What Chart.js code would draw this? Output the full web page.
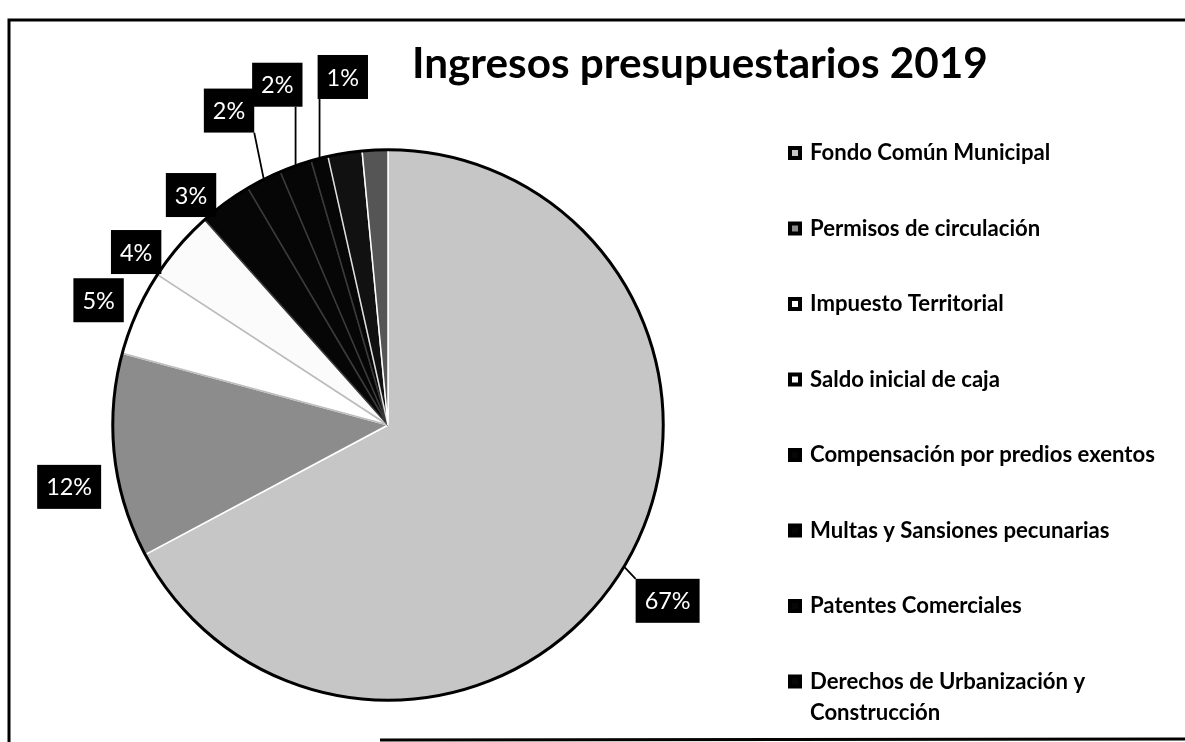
<!DOCTYPE html>
<html>
<head>
<meta charset="utf-8">
<script src="https://cdn.jsdelivr.net/npm/chart.js@4.4.1/dist/chart.umd.min.js"></script>
<style>
  html, body { margin: 0; padding: 0; background: #ffffff; }
  #wrap { width: 1185px; height: 742px; position: relative; }
</style>
</head>
<body>
<div id="wrap"><canvas id="budgetPie" width="1185" height="742"></canvas></div>
<script>
// ---- data ----
const titleText = 'Ingresos presupuestarios 2019';
const categories = [
  'Fondo Común Municipal',
  'Permisos de circulación',
  'Impuesto Territorial',
  'Saldo inicial de caja',
  'Compensación por predios exentos',
  'Multas y Sansiones pecunarias',
  'Patentes Comerciales',
  'Derechos de Urbanización y Construcción'
];
const shares = [67.2, 12.0, 5.0, 4.2, 3.1, 2.1, 1.9, 1.0];
// thin unlabeled slivers visible at the top of the pie (no legend entry, no label)
const unlabeledShares = [2.0, 1.5];

// ---- styling ----
const sliceColors = ['#c6c6c6', '#8c8c8c', '#ffffff', '#fbfbfb', '#060606', '#060606', '#060606', '#060606'];
const sliceBorders = ['#ffffff', '#ffffff', '#bdbdbd', '#bdbdbd', '#3a3a3a', '#3a3a3a', '#3a3a3a', '#3a3a3a'];
const unlabeledColors = ['#111111', '#555555'];
const unlabeledBorders = ['#e0e0e0', '#ffffff'];
const fontFamily = 'Lato, "Open Sans", "Liberation Sans", sans-serif';

// where each percentage box sits, relative to its slice (radius factor, angle shift in degrees)
const labelPlacement = [
  { f: 1.20, dA: 1.2, leader: true },
  { f: 1.18, dA: -4.5, leader: false },
  { f: 1.145, dA: -0.8, leader: false },
  { f: 1.11, dA: -6.2, leader: false },
  { f: 1.10, dA: -4.4, leader: false },
  { f: 1.28, dA: 0.0, leader: true },
  { f: 1.30, dA: 1.6, leader: true },
  { f: 1.275, dA: 7.0, leader: true }
];

function fitSize(ctx, text, weight, targetWidth) {
  ctx.font = weight + ' 100px ' + fontFamily;
  return 100 * targetWidth / ctx.measureText(text).width;
}

function wrapWords(ctx, text, maxWidth) {
  const words = text.split(' ');
  const lines = [];
  let line = '';
  words.forEach(function(w) {
    const test = line ? line + ' ' + w : w;
    if (line && ctx.measureText(test).width > maxWidth) {
      lines.push(line);
      line = w;
    } else {
      line = test;
    }
  });
  if (line) lines.push(line);
  return lines;
}

const total = shares.concat(unlabeledShares).reduce((a, b) => a + b, 0);

const decorPlugin = {
  id: 'decor',
  afterDatasetsDraw(chart) {
    const ctx = chart.ctx;
    const meta = chart.getDatasetMeta(0);
    const c = meta.data[0].getProps(['x', 'y', 'outerRadius'], true);
    ctx.save();

    // black rim round the pie
    ctx.beginPath();
    ctx.arc(c.x, c.y, c.outerRadius, 0, Math.PI * 2);
    ctx.lineWidth = 3;
    ctx.strokeStyle = '#000000';
    ctx.stroke();

    // percentage boxes
    const labelSize = fitSize(ctx, '67%', 'normal', 46);
    ctx.font = 'normal ' + labelSize + 'px ' + fontFamily;
    ctx.textAlign = 'center';
    ctx.textBaseline = 'middle';
    shares.forEach(function(v, i) {
      const arc = meta.data[i].getProps(['startAngle', 'endAngle'], true);
      const mid = (arc.startAngle + arc.endAngle) / 2;
      const place = labelPlacement[i];
      const a = mid + place.dA * Math.PI / 180;
      const lx = c.x + Math.cos(a) * c.outerRadius * place.f;
      const ly = c.y + Math.sin(a) * c.outerRadius * place.f;
      const text = Math.round(v / total * 100) + '%';
      const w = ctx.measureText(text).width + 18;
      const h = 44;
      const bx = lx - w / 2;
      const by = ly - h / 2;
      if (place.leader) {
        const ax = c.x + Math.cos(mid) * c.outerRadius;
        const ay = c.y + Math.sin(mid) * c.outerRadius;
        const tx = Math.min(Math.max(ax, bx), bx + w);
        const ty = Math.min(Math.max(ay, by), by + h);
        ctx.beginPath();
        ctx.moveTo(ax, ay);
        ctx.lineTo(tx, ty);
        ctx.lineWidth = 1.8;
        ctx.strokeStyle = '#000000';
        ctx.stroke();
      }
      ctx.fillStyle = '#000000';
      ctx.fillRect(bx, by, w, h);
      ctx.fillStyle = '#ffffff';
      ctx.fillText(text, lx, ly + 1);
    });
    ctx.restore();
  },
  afterDraw(chart) {
    const ctx = chart.ctx;
    ctx.save();

    // scanned frame
    ctx.strokeStyle = '#000000';
    ctx.lineWidth = 3;
    ctx.beginPath();
    ctx.moveTo(9, 742);
    ctx.lineTo(9, 20);
    ctx.lineTo(1185, 20);
    ctx.stroke();
    ctx.beginPath();
    ctx.moveTo(380, 740);
    ctx.lineTo(1185, 739);
    ctx.stroke();

    // title
    const titleSize = fitSize(ctx, titleText, 'bold', 576);
    ctx.font = 'bold ' + titleSize + 'px ' + fontFamily;
    ctx.fillStyle = '#000000';
    ctx.textAlign = 'left';
    ctx.textBaseline = 'alphabetic';
    ctx.fillText(titleText, 412, 78);

    // legend
    const legendSize = fitSize(ctx, categories[4], 'bold', 345);
    ctx.font = 'bold ' + legendSize + 'px ' + fontFamily;
    ctx.textBaseline = 'middle';
    categories.forEach(function(name, i) {
      const y = 153 + i * 75.5;
      ctx.fillStyle = '#000000';
      ctx.fillRect(788, y - 7, 14, 14);
      ctx.fillStyle = sliceColors[i];
      ctx.fillRect(792, y - 3, 6, 6);
      ctx.fillStyle = '#000000';
      wrapWords(ctx, name, 360).forEach(function(line, k) {
        ctx.fillText(line, 810, y + k * 31);
      });
    });
    ctx.restore();
  }
};

new Chart(document.getElementById('budgetPie'), {
  type: 'pie',
  data: {
    labels: categories.concat(unlabeledShares.map(() => '')),
    datasets: [{
      data: shares.concat(unlabeledShares),
      backgroundColor: sliceColors.concat(unlabeledColors),
      borderColor: sliceBorders.concat(unlabeledBorders),
      borderWidth: 1.5
    }]
  },
  options: {
    responsive: false,
    animation: false,
    events: [],
    layout: { padding: { left: 112, top: 149, right: 521, bottom: 41 } },
    plugins: {
      legend: { display: false },
      title: { display: false },
      tooltip: { enabled: false }
    }
  },
  plugins: [decorPlugin]
});
</script>
</body>
</html>
